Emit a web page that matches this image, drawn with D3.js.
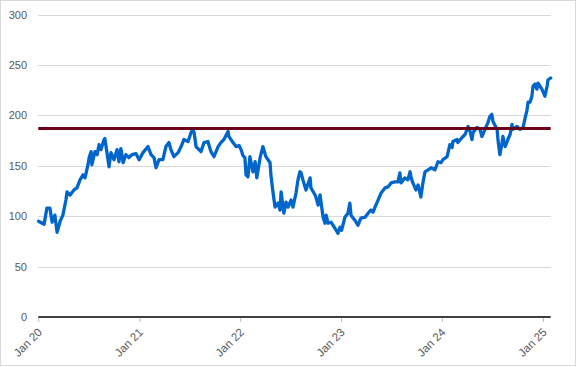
<!DOCTYPE html>
<html>
<head>
<meta charset="utf-8">
<script src="https://cdn.jsdelivr.net/npm/d3@7"></script>
<style>
  html, body { margin: 0; padding: 0; background: #fff; }
  svg { display: block; }
  text { font-family: "Liberation Sans", Arial, sans-serif; }
</style>
</head>
<body>
<svg id="chart" width="578" height="367"></svg>
<script>
const dates = [
"2020-01-02","2020-01-22","2020-02-01","2020-02-12","2020-02-20","2020-03-01","2020-03-09","2020-03-20","2020-03-30","2020-04-10",
"2020-04-14","2020-04-25","2020-05-09","2020-05-20","2020-05-31","2020-06-11","2020-06-18","2020-06-29","2020-07-03","2020-07-10",
"2020-07-13","2020-07-24","2020-08-01","2020-08-08","2020-08-15","2020-08-26","2020-08-29","2020-09-13","2020-09-20","2020-10-01",
"2020-10-12","2020-10-19","2020-10-26","2020-11-03","2020-11-13","2020-11-24","2020-12-05","2020-12-20","2020-12-31","2021-01-14",
"2021-02-01","2021-02-12","2021-02-23","2021-03-02","2021-03-13","2021-03-27","2021-04-07","2021-04-18","2021-04-25","2021-05-06",
"2021-05-21","2021-06-01","2021-06-11","2021-06-26","2021-07-07","2021-07-14","2021-07-18","2021-07-25","2021-08-12","2021-08-23",
"2021-09-06","2021-09-17","2021-09-28","2021-10-13","2021-10-23","2021-11-03","2021-11-18","2021-11-21","2021-12-06","2021-12-17",
"2021-12-28","2022-01-04","2022-01-11","2022-01-18","2022-01-22","2022-01-29","2022-02-05","2022-02-16","2022-02-24","2022-03-02",
"2022-03-14","2022-03-24","2022-04-04","2022-04-19","2022-04-22","2022-04-30","2022-05-07","2022-05-18","2022-05-25","2022-05-29",
"2022-06-08","2022-06-16","2022-06-23","2022-07-04","2022-07-11","2022-07-22","2022-07-29","2022-08-05","2022-08-09","2022-08-16",
"2022-08-27","2022-09-11","2022-09-14","2022-09-29","2022-10-02","2022-10-10","2022-10-17","2022-10-28","2022-11-04","2022-11-08",
"2022-11-15","2022-11-26","2022-12-10","2022-12-21","2022-12-28","2023-01-03","2023-01-15","2023-01-26","2023-02-02","2023-02-06",
"2023-02-20","2023-03-03","2023-03-14","2023-03-29","2023-04-09","2023-04-19","2023-04-27","2023-05-04","2023-05-15","2023-05-26",
"2023-06-09","2023-06-20","2023-07-01","2023-07-15","2023-07-26","2023-08-02","2023-08-06","2023-08-20","2023-08-31","2023-09-08",
"2023-09-11","2023-09-18","2023-09-29","2023-10-07","2023-10-17","2023-10-25","2023-11-01","2023-11-12","2023-11-23","2023-12-07",
"2023-12-18","2023-12-29","2024-01-05","2024-01-20","2024-01-30","2024-02-07","2024-02-10","2024-02-25","2024-02-28","2024-03-14",
"2024-03-25","2024-04-05","2024-04-12","2024-04-19","2024-04-23","2024-05-07","2024-05-18","2024-05-25","2024-06-05","2024-06-16",
"2024-06-23","2024-06-30","2024-07-04","2024-07-19","2024-07-22","2024-07-29","2024-08-06","2024-08-09","2024-08-17","2024-08-27",
"2024-09-04","2024-09-11","2024-09-14","2024-09-29","2024-10-10","2024-10-21","2024-10-28","2024-11-04","2024-11-08","2024-11-15",
"2024-11-22","2024-11-26","2024-12-03","2024-12-10","2024-12-14","2024-12-28","2025-01-08","2025-01-16","2025-01-19","2025-01-29"
];
const prices = [
95,92,108,108,94,101,84,95,101,116,
124,121,126,128,136,141,138,151,158,164,
151,164,161,171,166,176,177,149,163,156,
166,154,167,153,161,158,161,162,156,163,
169,161,158,148,156,156,169,173,166,159,
163,169,176,174,183,186,183,169,164,173,
174,164,159,169,173,176,184,179,173,169,
170,166,160,158,141,139,159,144,154,138,
158,169,159,153,141,123,109,113,106,124,
103,114,109,116,109,123,136,144,143,136,
126,138,128,121,119,111,121,99,93,101,
93,94,88,83,89,86,99,103,113,101,
96,91,98,99,103,106,104,109,116,123,
128,129,133,134,134,143,133,138,136,144,
139,133,126,131,119,134,144,146,148,146,
154,153,156,159,171,168,174,176,173,178,
181,189,184,176,183,188,186,179,186,193,
199,201,194,186,176,161,173,179,169,176,
181,191,186,189,186,188,197,205,213,213,
219,229,231,226,232,226,219,229,235,237
];
const referenceLevel = [187];
const yTickValues = [0, 50, 100, 150, 200, 250, 300];
const xDomain = ["2020-01-01", "2025-01-29"];

const parse = d3.timeParse("%Y-%m-%d");
const series = dates.map((d, i) => ({ date: parse(d), value: prices[i] }));

const svg = d3.select("#chart");
const W = 578, H = 367;
const mLeft = 38.3, mRight = 550.7, mTop = 14.5, mBottom = 317;

svg.append("rect").attr("x", 0).attr("y", 0).attr("width", W).attr("height", H).attr("fill", "#fff");
svg.append("rect").attr("x", 0.5).attr("y", 0.5).attr("width", 575).attr("height", 365)
  .attr("fill", "none").attr("stroke", "#d9d9d9").attr("stroke-width", 1);

const x = d3.scaleTime().domain(xDomain.map(parse)).range([mLeft, mRight]);
const y = d3.scaleLinear().domain([0, 300]).range([mBottom, mTop]);

// gridlines
svg.append("g").selectAll("line").data(yTickValues.filter(v => v > 0)).join("line")
  .attr("x1", mLeft).attr("x2", mRight)
  .attr("y1", d => Math.round(y(d)) + 0.5).attr("y2", d => Math.round(y(d)) + 0.5)
  .attr("stroke", "#d9d9d9").attr("stroke-width", 1);

// y axis labels
const yAxis = d3.axisLeft(y).tickValues(yTickValues).tickSize(0).tickPadding(0);
const gy = svg.append("g").attr("transform", `translate(${27},0)`).call(yAxis);
gy.select(".domain").remove();
gy.selectAll("text").attr("fill", "#595959").style("font-size", "11px")
  .style("font-family", "'Liberation Sans', Arial, sans-serif");

// x axis
const xAxis = d3.axisBottom(x).ticks(d3.timeYear.every(1)).tickFormat(d3.timeFormat("%b %y")).tickSize(5).tickSizeOuter(0);
const gx = svg.append("g").attr("transform", `translate(0,${mBottom})`).call(xAxis);
gx.select(".domain").remove();
gx.selectAll(".tick line").attr("stroke", "#bfbfbf");
gx.selectAll(".tick text")
  .attr("fill", "#595959").style("font-size", "11.5px")
  .style("font-family", "'Liberation Sans', Arial, sans-serif")
  .attr("text-anchor", "end").attr("dy", null).attr("y", 0)
  .attr("transform", "translate(4,16) rotate(-45)");

// zero axis line
svg.append("line").attr("x1", mLeft).attr("x2", mRight).attr("y1", mBottom).attr("y2", mBottom)
  .attr("stroke", "#404040").attr("stroke-width", 2);

// price line
const line = d3.line().x(d => x(d.date)).y(d => y(d.value));
svg.append("path").datum(series).attr("d", line)
  .attr("fill", "none").attr("stroke", "#0066CC").attr("stroke-width", 3.3)
  .attr("stroke-linejoin", "round").attr("stroke-linecap", "round");

// reference line
svg.append("g").selectAll("line").data(referenceLevel).join("line")
  .attr("x1", mLeft).attr("x2", mRight)
  .attr("y1", d => y(d)).attr("y2", d => y(d))
  .attr("stroke", "#6B0018").attr("stroke-width", 3);
</script>
</body>
</html>
